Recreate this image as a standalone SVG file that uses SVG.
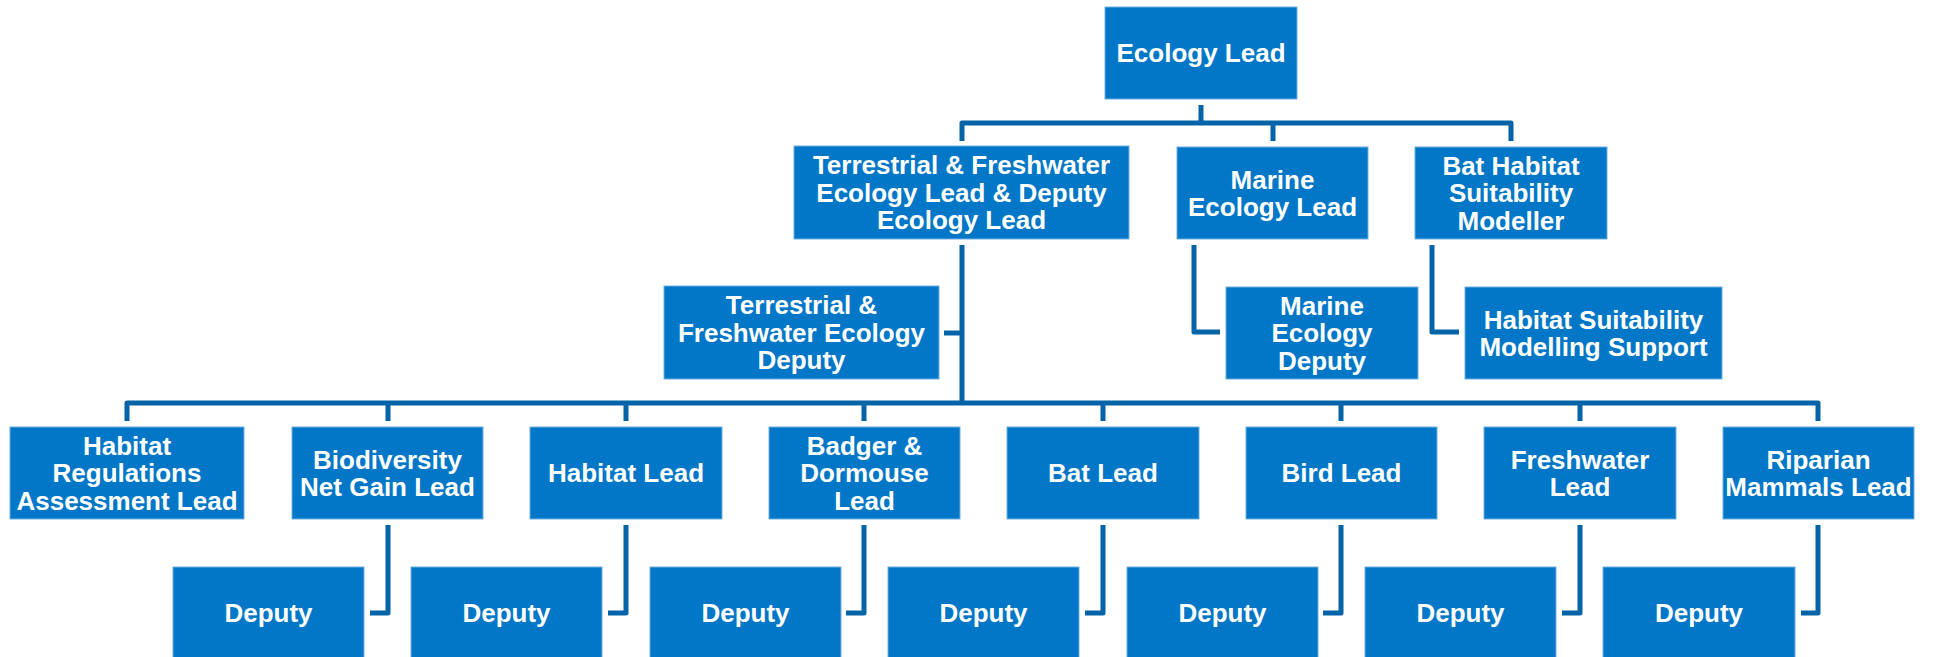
<svg xmlns="http://www.w3.org/2000/svg" width="1935" height="657" viewBox="0 0 1935 657">
<style>
.box{fill:#0277C7;stroke:#6FB0E0;stroke-width:1}
.t{font-family:"Liberation Sans",Arial,sans-serif;font-weight:bold;font-size:26px;fill:#ffffff;text-anchor:middle}
.c{fill:none;stroke:#0563A8;stroke-width:5;stroke-linejoin:round}
</style>
<rect width="1935" height="657" fill="#ffffff"/>
<g id="connectors" class="c">
<path d="M1201 105V123"/>
<path d="M962 141V123H1511V141"/>
<path d="M1273 123V141"/>
<path d="M962 245V403"/>
<path d="M944 333H962"/>
<path d="M127 421V403H1818V421"/>
<path d="M388 403V421M626 403V421M864 403V421M1103 403V421M1341 403V421M1580 403V421"/>
<path d="M1194 245V332H1220"/>
<path d="M1432 245V332H1459"/>
<path d="M388 525V613H370"/>
<path d="M626 525V613H608"/>
<path d="M864 525V613H846"/>
<path d="M1103 525V613H1085"/>
<path d="M1341 525V613H1323"/>
<path d="M1580 525V613H1562"/>
<path d="M1818 525V613H1801"/>
</g>
<g id="ecology-lead"><rect class="box" x="1105" y="7" width="192" height="92"/><text class="t" x="1201" y="62">Ecology Lead</text></g>
<g id="tf-lead"><rect class="box" x="794" y="146" width="335" height="93"/><text class="t" x="961.5" y="174">Terrestrial &amp; Freshwater</text><text class="t" x="961.5" y="201.5">Ecology Lead &amp; Deputy</text><text class="t" x="961.5" y="229">Ecology Lead</text></g>
<g id="marine-lead"><rect class="box" x="1177" y="147" width="191" height="92"/><text class="t" x="1272.5" y="188.5">Marine</text><text class="t" x="1272.5" y="216">Ecology Lead</text></g>
<g id="bat-habitat"><rect class="box" x="1415" y="147" width="192" height="92"/><text class="t" x="1511" y="174.5">Bat Habitat</text><text class="t" x="1511" y="202">Suitability</text><text class="t" x="1511" y="229.5">Modeller</text></g>
<g id="tf-deputy"><rect class="box" x="664" y="286" width="275" height="93"/><text class="t" x="801.5" y="314">Terrestrial &amp;</text><text class="t" x="801.5" y="341.5">Freshwater Ecology</text><text class="t" x="801.5" y="369">Deputy</text></g>
<g id="marine-deputy"><rect class="box" x="1226" y="287" width="192" height="92"/><text class="t" x="1322" y="314.5">Marine</text><text class="t" x="1322" y="342">Ecology</text><text class="t" x="1322" y="369.5">Deputy</text></g>
<g id="hsm-support"><rect class="box" x="1465" y="287" width="257" height="92"/><text class="t" x="1593.5" y="328.5">Habitat Suitability</text><text class="t" x="1593.5" y="356">Modelling Support</text></g>
<g id="hra-lead"><rect class="box" x="10" y="427" width="234" height="92"/><text class="t" x="127" y="454.5">Habitat</text><text class="t" x="127" y="482">Regulations</text><text class="t" x="127" y="509.5">Assessment Lead</text></g>
<g id="bng-lead"><rect class="box" x="292" y="427" width="191" height="92"/><text class="t" x="387.5" y="468.5">Biodiversity</text><text class="t" x="387.5" y="496">Net Gain Lead</text></g>
<g id="habitat-lead"><rect class="box" x="530" y="427" width="192" height="92"/><text class="t" x="626" y="482">Habitat Lead</text></g>
<g id="badger-lead"><rect class="box" x="769" y="427" width="191" height="92"/><text class="t" x="864.5" y="454.5">Badger &amp;</text><text class="t" x="864.5" y="482">Dormouse</text><text class="t" x="864.5" y="509.5">Lead</text></g>
<g id="bat-lead"><rect class="box" x="1007" y="427" width="192" height="92"/><text class="t" x="1103" y="482">Bat Lead</text></g>
<g id="bird-lead"><rect class="box" x="1246" y="427" width="191" height="92"/><text class="t" x="1341.5" y="482">Bird Lead</text></g>
<g id="freshwater-lead"><rect class="box" x="1484" y="427" width="192" height="92"/><text class="t" x="1580" y="468.5">Freshwater</text><text class="t" x="1580" y="496">Lead</text></g>
<g id="riparian-lead"><rect class="box" x="1723" y="427" width="191" height="92"/><text class="t" x="1818.5" y="468.5">Riparian</text><text class="t" x="1818.5" y="496">Mammals Lead</text></g>
<g id="deputy-bng"><rect class="box" x="173" y="567" width="191" height="92"/><text class="t" x="268.5" y="622">Deputy</text></g>
<g id="deputy-habitat"><rect class="box" x="411" y="567" width="191" height="92"/><text class="t" x="506.5" y="622">Deputy</text></g>
<g id="deputy-badger"><rect class="box" x="650" y="567" width="191" height="92"/><text class="t" x="745.5" y="622">Deputy</text></g>
<g id="deputy-bat"><rect class="box" x="888" y="567" width="191" height="92"/><text class="t" x="983.5" y="622">Deputy</text></g>
<g id="deputy-bird"><rect class="box" x="1127" y="567" width="191" height="92"/><text class="t" x="1222.5" y="622">Deputy</text></g>
<g id="deputy-freshwater"><rect class="box" x="1365" y="567" width="191" height="92"/><text class="t" x="1460.5" y="622">Deputy</text></g>
<g id="deputy-riparian"><rect class="box" x="1603" y="567" width="192" height="92"/><text class="t" x="1699" y="622">Deputy</text></g>
</svg>
